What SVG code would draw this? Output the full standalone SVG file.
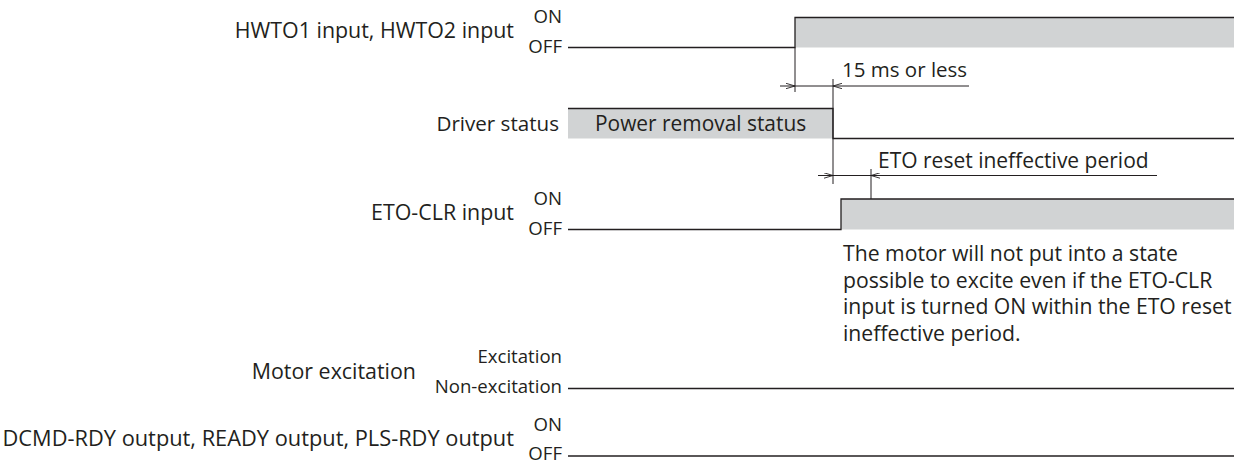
<svg xmlns="http://www.w3.org/2000/svg" width="1239" height="463" viewBox="0 0 1239 463">
<style>
  text { font-family: "Open Sans", "Noto Sans", "Liberation Sans", sans-serif; fill: #231f20; }
  .lbl { font-size: 21.4px; text-anchor: end; }
  .lvl { font-size: 18.6px; text-anchor: end; }
  .note { font-size: 21.2px; }
  .sig { fill: none; stroke: #231f20; stroke-width: 1.3; }
  .fill { fill: #d1d3d4; stroke: none; }
  .dim { fill: none; stroke: #231f20; stroke-width: 1; }
</style>
<defs>
  <marker id="arr" viewBox="0 0 10 6" refX="10" refY="3" markerWidth="9" markerHeight="6" markerUnits="userSpaceOnUse" orient="auto">
    <path d="M0,0 L10,3 L0,6" fill="none" stroke="#231f20" stroke-width="1"/>
  </marker>
</defs>
<rect width="1239" height="463" fill="#ffffff"/>

<g id="hwto">
  <rect class="fill" x="795" y="17.5" width="439" height="30"/>
  <path class="sig" d="M568,47.5 H795 V17.5 H1234"/>
  <text class="lbl" x="514" y="37.5">HWTO1 input, HWTO2 input</text>
  <text class="lvl" x="562" y="22.5">ON</text>
  <text class="lvl" x="562" y="52.5">OFF</text>
</g>

<g id="driver">
  <rect class="fill" x="568" y="108.5" width="265" height="30"/>
  <path class="sig" d="M568,108.5 H833 V138.5 H1234"/>
  <text class="lbl" x="559" y="130.5" style="font-size:20.6px">Driver status</text>
  <text x="595" y="130.5" style="font-size:20.9px">Power removal status</text>
</g>

<g id="etoclr">
  <rect class="fill" x="841" y="199" width="393" height="30.5"/>
  <path class="sig" d="M568,229.5 H841 V199 H1234"/>
  <text class="lbl" x="514" y="219.5">ETO-CLR input</text>
  <text class="lvl" x="562" y="204.5">ON</text>
  <text class="lvl" x="562" y="234.5">OFF</text>
</g>

<g id="note">
  <text class="note" x="843" y="261">The motor will not put into a state</text>
  <text class="note" x="843" y="287.5">possible to excite even if the ETO-CLR</text>
  <text class="note" x="843" y="314">input is turned ON within the ETO reset</text>
  <text class="note" x="843" y="340.5">ineffective period.</text>
</g>

<g id="motor">
  <path class="sig" d="M568,388.5 H1234"/>
  <text class="lbl" x="416" y="378.5">Motor excitation</text>
  <text class="lvl" x="562" y="363">Excitation</text>
  <text class="lvl" x="562" y="393">Non-excitation</text>
</g>

<g id="dcmd">
  <path class="sig" d="M568,456 H1234"/>
  <text class="lbl" x="514" y="446" style="font-size:21.8px">DCMD-RDY output, READY output, PLS-RDY output</text>
  <text class="lvl" x="562" y="431">ON</text>
  <text class="lvl" x="562" y="460">OFF</text>
</g>

<g id="connectors">
  <!-- 15 ms dimension -->
  <path class="dim" d="M795,47.5 V92"/>
  <path class="dim" d="M833,79 V184"/>
  <path class="dim" d="M780,86 H795" marker-end="url(#arr)"/>
  <path class="dim" d="M795,86 H833"/>
  <path class="dim" d="M969,86 H833" marker-end="url(#arr)"/>
  <text x="842" y="77" style="font-size:20.5px">15 ms or less</text>
  <!-- ETO reset dimension -->
  <path class="dim" d="M871,169 V199"/>
  <path class="dim" d="M818,175.5 H833" marker-end="url(#arr)"/>
  <path class="dim" d="M833,175.5 H871"/>
  <path class="dim" d="M1157,175.5 H871" marker-end="url(#arr)"/>
  <text x="878" y="168" style="font-size:21px">ETO reset ineffective period</text>
</g>
</svg>
